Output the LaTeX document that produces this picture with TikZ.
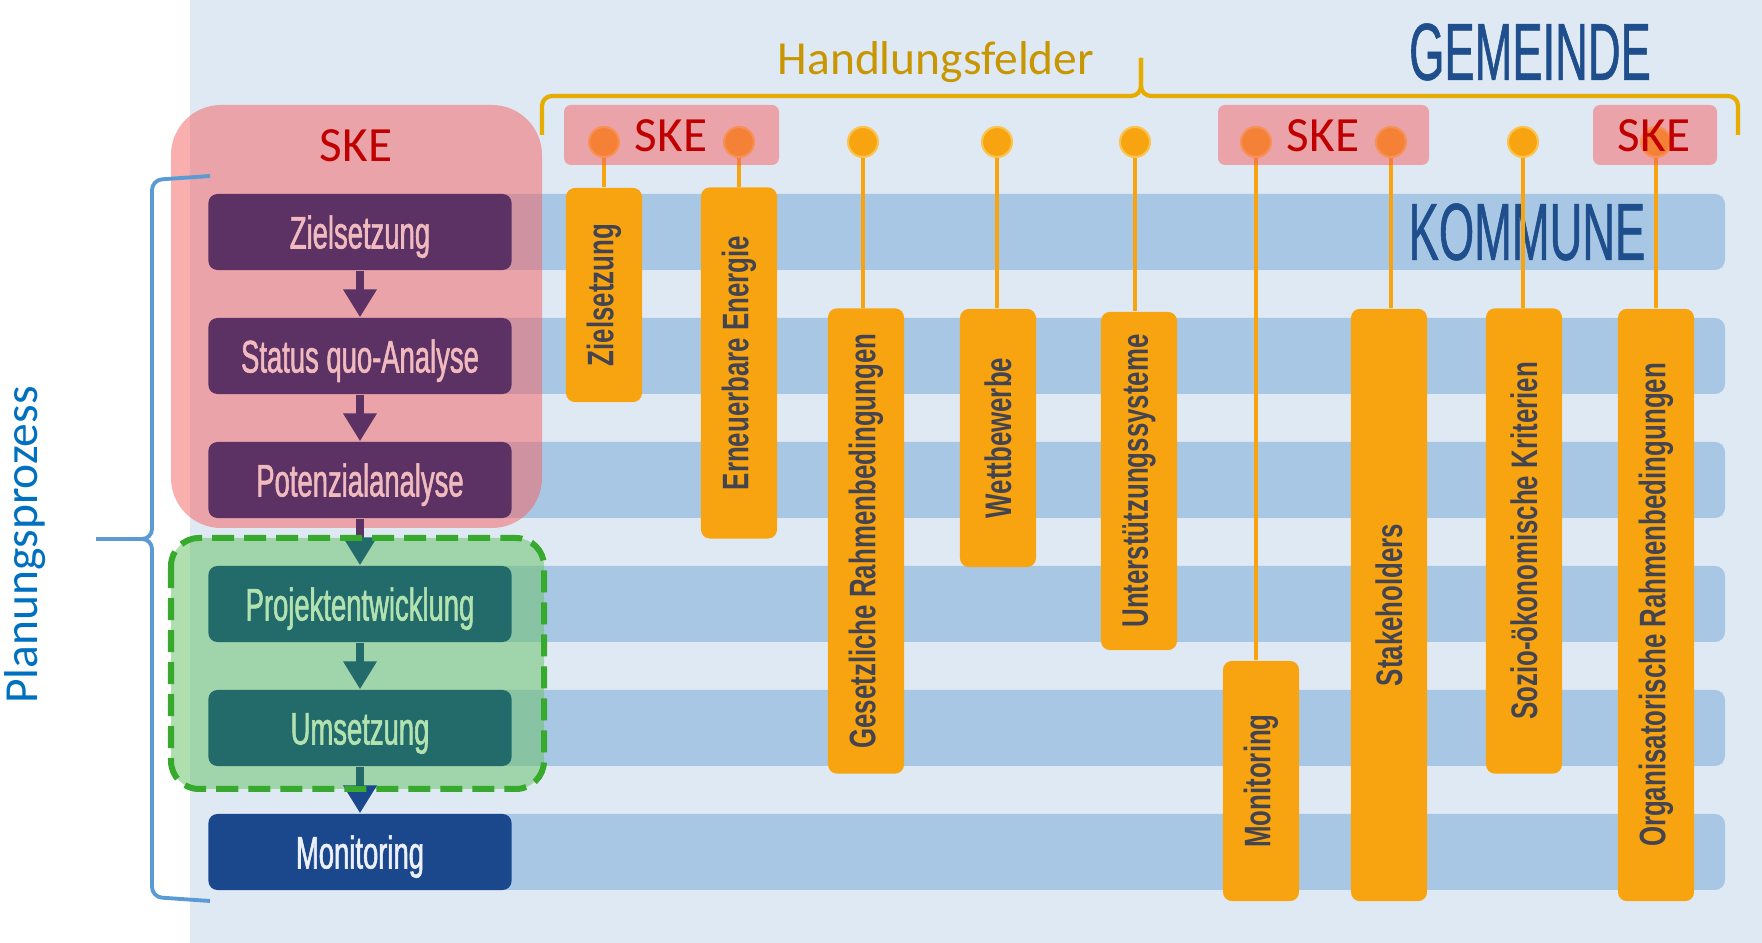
\documentclass[tikz,border=0pt]{standalone}
\usepackage{fontspec}
\setmainfont{Carlito}
\newfontfamily\boxfont[FakeStretch=0.6,FakeBold=1.2]{Liberation Sans}
\newfontfamily\pillfont[FakeStretch=0.7]{Liberation Sans}
\newfontfamily\titlefont[FakeStretch=0.56,FakeBold=0.7]{Liberation Sans}
\usetikzlibrary{arrows.meta}

\definecolor{bgblue}{RGB}{223,233,244}
\definecolor{bandblue}{RGB}{168,199,228}
\definecolor{purplebox}{RGB}{92,49,100}
\definecolor{purpletext}{RGB}{240,186,190}
\definecolor{tealbox}{RGB}{35,106,106}
\definecolor{tealtext}{RGB}{178,226,176}
\definecolor{navybox}{RGB}{27,72,140}
\definecolor{navytext}{RGB}{236,240,250}
\definecolor{pillorange}{RGB}{247,164,16}
\definecolor{dotedge}{RGB}{250,196,80}
\definecolor{pilltext}{RGB}{68,68,80}
\definecolor{goldline}{RGB}{230,172,0}
\definecolor{goldtext}{RGB}{200,150,0}
\definecolor{skered}{RGB}{192,0,0}
\definecolor{skepink}{RGB}{245,95,95}
\definecolor{greenfill}{RGB}{110,195,110}
\definecolor{greendash}{RGB}{55,170,45}
\definecolor{braceblue}{RGB}{91,155,213}
\definecolor{planblue}{RGB}{0,112,192}
\definecolor{titleblue}{RGB}{31,78,140}

\tikzset{
  band/.style={fill=bandblue, rounded corners=0.1cm},
  procbox/.style={rectangle, rounded corners=0.09cm, minimum width=3.03cm, minimum height=0.76cm, inner sep=0pt, text height=0.33cm, text depth=0cm, font=\boxfont\fontsize{13}{13}\selectfont},
  flowarrow/.style={line width=0.08cm},
  pill/.style={rectangle, rounded corners=0.09cm, fill=pillorange, minimum width=0.76cm, inner sep=0pt, text=pilltext, font=\pillfont\bfseries\fontsize{10.5}{10.5}\selectfont},
  dot/.style={circle, fill=pillorange, draw=dotedge, line width=0.6pt, minimum size=0.3cm, inner sep=0pt},
  stem/.style={pillorange, line width=1.3pt},
  skefill/.style={fill=skepink, fill opacity=0.5},
  sketext/.style={text=skered, font=\fontsize{14}{14}\selectfont},
  titletext/.style={text=titleblue, font=\titlefont\fontsize{23}{23}\selectfont}
}

\begin{document}
\begin{tikzpicture}[x=0.01cm,y=-0.01cm]
	\useasboundingbox (0,0) rectangle (1762,943);
	\fill[bgblue] (190,0) rectangle (1762,943);
	% rows
	\fill[band] (230,194) rectangle (1725,270);
	\fill[band] (230,318) rectangle (1725,394);
	\fill[band] (230,442) rectangle (1725,518);
	\fill[band] (230,566) rectangle (1725,642);
	\fill[band] (230,690) rectangle (1725,766);
	\fill[band] (230,814) rectangle (1725,890);
	% SKE and green areas
	\fill[skefill, rounded corners=0.5cm] (171,105) rectangle (542,528);
	\fill[greenfill, fill opacity=0.55, rounded corners=0.28cm] (171,538) rectangle (544,789);
	% planning steps
	\node[procbox, fill=purplebox, text=purpletext] (ziel) at (360,232) {Zielsetzung};
	\node[procbox, fill=purplebox, text=purpletext] (status) at (360,356) {Status quo-Analyse};
	\node[procbox, fill=purplebox, text=purpletext] (potenzial) at (360,480) {Potenzialanalyse};
	\node[procbox, fill=tealbox, text=tealtext] (projekt) at (360,604) {Projektentwicklung};
	\node[procbox, fill=tealbox, text=tealtext] (umsetzung) at (360,728) {Umsetzung};
	\node[procbox, fill=navybox, text=navytext] (monitoring) at (360,852) {Monitoring};
	\draw[flowarrow, purplebox, -{Triangle[width=0.32cm,length=0.28cm]}] (ziel) -- (status);
	\draw[flowarrow, purplebox, -{Triangle[width=0.32cm,length=0.28cm]}] (status) -- (potenzial);
	\draw[flowarrow, purplebox, -{Triangle[width=0.32cm,length=0.28cm,color=tealbox]}] (potenzial) -- (projekt);
	\draw[flowarrow, tealbox, -{Triangle[width=0.32cm,length=0.28cm]}] (projekt) -- (umsetzung);
	\draw[flowarrow, tealbox, -{Triangle[width=0.32cm,length=0.28cm,color=navybox]}] (umsetzung) -- (monitoring);
	\draw[greendash, line width=0.06cm, dash pattern=on 0.22cm off 0.1cm, rounded corners=0.28cm] (171,538) rectangle (544,789);
	\node[sketext] (skemain) at (356,146) {SKE};
	% Planungsprozess brace
	\draw[braceblue, line width=1.1pt, rounded corners=0.1cm] (210,176) -- (152,180) -- (152,539) -- (96,539);
	\draw[braceblue, line width=1.1pt, rounded corners=0.1cm] (96,539) -- (152,539) -- (152,897) -- (210,901);
	\node[rotate=90, text=planblue, font=\fontsize{13.5}{13.5}\selectfont] (plan) at (25,545) {Planungsprozess};
	% Handlungsfelder brace
	\draw[goldline, line width=1.2pt, rounded corners=0.1cm] (542,135) -- (542,96) -- (1141,96) -- (1141,58);
	\draw[goldline, line width=1.2pt, rounded corners=0.1cm] (1141,58) -- (1141,96) -- (1738,96) -- (1738,135);
	\node[text=goldtext, font=\fontsize{13.5}{13.5}\selectfont] (handlung) at (936,62) {Handlungsfelder};
	% Gemeinde / Kommune
	\node[titletext] (gemeinde) at (1530,52) {GEMEINDE};
	\node[titletext] (kommune) at (1527,232) {KOMMUNE};
	% fields
	\node[pill, minimum height=2.14cm] (pziel) at (604,295) {\rotatebox{90}{Zielsetzung}};
	\node[pill, minimum height=3.51cm] (penergie) at (739,363) {\rotatebox{90}{Erneuerbare Energie}};
	\node[pill, minimum height=4.65cm] (pgesetz) at (866,541) {\rotatebox{90}{Gesetzliche Rahmenbedingungen}};
	\node[pill, minimum height=2.58cm] (pwett) at (998,438) {\rotatebox{90}{Wettbewerbe}};
	\node[pill, minimum height=3.38cm] (punter) at (1139,481) {\rotatebox{90}{Unterstützungssysteme}};
	\node[pill, minimum height=2.40cm] (pmonitor) at (1261,781) {\rotatebox{90}{Monitoring}};
	\node[pill, minimum height=5.92cm] (pstake) at (1389,605) {\rotatebox{90}{Stakeholders}};
	\node[pill, minimum height=4.65cm] (psozio) at (1524,541) {\rotatebox{90}{Sozio-ökonomische Kriterien}};
	\node[pill, minimum height=5.92cm] (porga) at (1656,605) {\rotatebox{90}{Organisatorische Rahmenbedingungen}};
	\node[dot] (d1) at (604,142) {};
	\node[dot] (d2) at (739,142) {};
	\node[dot] (d3) at (863,142) {};
	\node[dot] (d4) at (997,142) {};
	\node[dot] (d5) at (1135,142) {};
	\node[dot] (d6) at (1256,142) {};
	\node[dot] (d7) at (1391,142) {};
	\node[dot] (d8) at (1523,142) {};
	\node[dot] (d9) at (1656,142) {};
	\draw[stem] (d1) -- (d1 |- pziel.north);
	\draw[stem] (d2) -- (d2 |- penergie.north);
	\draw[stem] (d3) -- (d3 |- pgesetz.north);
	\draw[stem] (d4) -- (d4 |- pwett.north);
	\draw[stem] (d5) -- (d5 |- punter.north);
	\draw[stem] (d6) -- (d6 |- pmonitor.north);
	\draw[stem] (d7) -- (d7 |- pstake.north);
	\draw[stem] (d8) -- (d8 |- psozio.north);
	\draw[stem] (d9) -- (d9 |- porga.north);
	% SKE fields
	\fill[skefill, rounded corners=0.07cm] (564,105) rectangle (779,165);
	\fill[skefill, rounded corners=0.07cm] (1218,105) rectangle (1429,165);
	\fill[skefill, rounded corners=0.07cm] (1593,105) rectangle (1717,165);
	\node[sketext] (ske1) at (671,136) {SKE};
	\node[sketext] (ske2) at (1323,136) {SKE};
	\node[sketext] (ske3) at (1654,136) {SKE};
\end{tikzpicture}
\end{document}
